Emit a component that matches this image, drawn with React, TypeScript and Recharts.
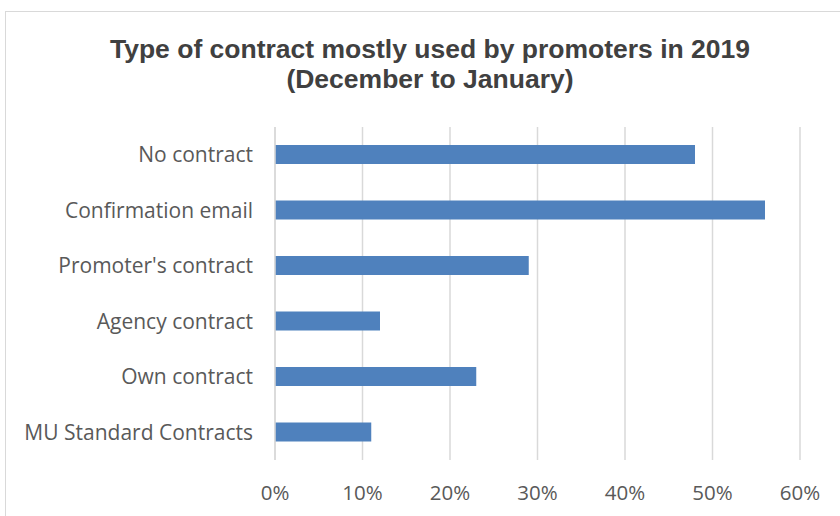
import React from "react";
import { BarChart, Bar, XAxis, YAxis, CartesianGrid } from "recharts";

const categories = [
  "No contract",
  "Confirmation email",
  "Promoter's contract",
  "Agency contract",
  "Own contract",
  "MU Standard Contracts",
];
const shares = [0.48, 0.56, 0.29, 0.12, 0.23, 0.11];
const xTicks = [0, 0.1, 0.2, 0.3, 0.4, 0.5, 0.6];
const titleLines = ["Type of contract mostly used by promoters in 2019", "(December to January)"];

const data = categories.map((name, i) => ({ name, value: shares[i] }));

const labelFont = "'Open Sans', 'Liberation Sans', Arial, sans-serif";

export default function App() {
  return (
    <div style={{ position: "absolute", left: 0, top: 0, width: 840, height: 516, overflow: "hidden", background: "#fff" }}>
      <div
        style={{
          position: "absolute",
          left: 5,
          top: 11,
          width: 860,
          height: 540,
          border: "1.5px solid #d9d9d9",
          boxSizing: "border-box",
        }}
      />
      <div style={{ position: "absolute", left: 0, top: 0 }}>
        <BarChart
          width={840}
          height={516}
          data={data}
          layout="vertical"
          margin={{ top: 127, right: 40, bottom: 0, left: 0 }}
          barCategoryGap={0}
        >
          <CartesianGrid horizontal={false} vertical={true} stroke="#d9d9d9" strokeWidth={1.5} />
          <XAxis
            type="number"
            domain={[0, 0.6]}
            ticks={xTicks}
            tickFormatter={(v: number) => `${Math.round(v * 100)}%`}
            axisLine={false}
            tickLine={false}
            tickSize={0}
            tickMargin={25}
            height={56}
            interval={0}
            tick={{ fill: "#595959", fontSize: 20.5, fontFamily: labelFont }}
          />
          <YAxis
            type="category"
            dataKey="name"
            width={275}
            axisLine={{ stroke: "#d9d9d9", strokeWidth: 1.5 }}
            tickLine={false}
            tickSize={0}
            tickMargin={22}
            interval={0}
            tick={{ fill: "#595959", fontSize: 21, fontFamily: labelFont }}
          />
          <Bar dataKey="value" fill="#4f81bd" barSize={19} isAnimationActive={false} />
        </BarChart>
      </div>
      <svg width={840} height={110} style={{ position: "absolute", left: 0, top: 0 }}>
        {titleLines.map((t, i) => (
          <text
            key={i}
            x={430}
            y={58 + i * 30}
            textAnchor="middle"
            fontFamily="'Liberation Sans', Arial, sans-serif"
            fontWeight="bold"
            fontSize={26.5}
            fill="#404040"
          >
            {t}
          </text>
        ))}
      </svg>
    </div>
  );
}
